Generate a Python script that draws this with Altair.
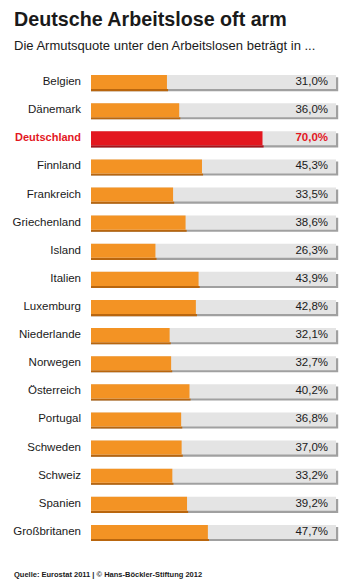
import altair as alt
import pandas as pd

countries = ["Belgien", "Dänemark", "Deutschland", "Finnland", "Frankreich", "Griechenland",
             "Island", "Italien", "Luxemburg", "Niederlande", "Norwegen", "Österreich",
             "Portugal", "Schweden", "Schweiz", "Spanien", "Großbritanen"]
values = [31.0, 36.0, 70.0, 45.3, 33.5, 38.6, 26.3, 43.9, 42.8, 32.1, 32.7, 40.2,
          36.8, 37.0, 33.2, 39.2, 47.7]
highlight = "Deutschland"

df = pd.DataFrame({
    "land": countries,
    "idx": list(range(len(countries))),
    "wert": values,
    "label": [f"{v:.1f}".replace(".", ",") + "%" for v in values],
    "full": [100] * len(values),
    "zero": [0] * len(values),
    "hl": [c == highlight for c in countries],
})

W, H = 354, 587
FONT = "Liberation Sans"
HALF = 0.25      # half bar thickness in row units
SH_Y = 0.075     # shadow drop in row units (~2px)
SH_X = 0.9       # shadow extension to the right in percent units (~2px)

xs = alt.Scale(domain=[0, 100], range=[91, 336])
ys = alt.Scale(domain=[-0.5, len(countries) - 0.5], range=[68, 546], zero=False, nice=False)

base = alt.Chart(df).transform_calculate(
    y0=f"datum.idx - {HALF}", y1=f"datum.idx + {HALF}",
    sy0=f"datum.idx - {HALF} + {SH_Y}", sy1=f"datum.idx + {HALF} + {SH_Y}",
    sfull=f"datum.full + {SH_X}", swert=f"datum.wert + {SH_X / 2}")

X0 = alt.X("zero:Q", scale=xs, axis=None)
Yt = alt.Y("y0:Q", scale=ys, axis=None)
Ys = alt.Y("sy0:Q", scale=ys, axis=None)

shadow_gray = base.mark_rect(color="#a0a0a0").encode(
    x=X0, x2="sfull:Q", y=Ys, y2="sy1:Q")
shadow_val = base.mark_rect().encode(
    x=X0, x2="swert:Q", y=Ys, y2="sy1:Q",
    color=alt.condition("datum.hl", alt.value("#a8121a"), alt.value("#b9660e")))
bg = base.mark_rect(color="#e4e4e4").encode(x=X0, x2="full:Q", y=Yt, y2="y1:Q")
bar = base.mark_rect().encode(
    x=X0, x2="wert:Q", y=Yt, y2="y1:Q",
    color=alt.condition("datum.hl", alt.value("#e3171f"), alt.value("#f39324")))

Yc = alt.Y("idx:Q", scale=ys, axis=None)
names_n = base.transform_filter("!datum.hl").mark_text(
    align="right", baseline="middle", font=FONT, fontSize=11.5, color="#1a1a1a").encode(
    x=alt.value(81), y=Yc, text="land:N")
names_h = base.transform_filter("datum.hl").mark_text(
    align="right", baseline="middle", font=FONT, fontSize=11, fontWeight="bold",
    color="#e3171f").encode(x=alt.value(81), y=Yc, text="land:N")
vals_n = base.transform_filter("!datum.hl").mark_text(
    align="right", baseline="middle", font=FONT, fontSize=11.5, color="#1a1a1a").encode(
    x=alt.value(328), y=Yc, text="label:N")
vals_h = base.transform_filter("datum.hl").mark_text(
    align="right", baseline="middle", font=FONT, fontSize=11.5, fontWeight="bold",
    color="#e3171f").encode(x=alt.value(328), y=Yc, text="label:N")

title_df = pd.DataFrame({"t": ["Deutsche Arbeitslose oft arm"]})
sub_df = pd.DataFrame({"t": ["Die Armutsquote unter den Arbeitslosen beträgt in ..."]})
foot_df = pd.DataFrame({"t": ["Quelle: Eurostat 2011 | © Hans-Böckler-Stiftung 2012"]})

title = alt.Chart(title_df).mark_text(align="left", baseline="alphabetic", font=FONT,
                                      fontSize=19.7, fontWeight="bold", color="#1a1a1a").encode(
    x=alt.value(14), y=alt.value(26), text="t:N")
sub = alt.Chart(sub_df).mark_text(align="left", baseline="alphabetic", font=FONT,
                                  fontSize=13, color="#1a1a1a").encode(
    x=alt.value(14), y=alt.value(50), text="t:N")
foot = alt.Chart(foot_df).mark_text(align="left", baseline="alphabetic", font=FONT,
                                    fontSize=7.5, fontWeight="bold", color="#1a1a1a").encode(
    x=alt.value(14), y=alt.value(577), text="t:N")

chart = alt.layer(shadow_gray, shadow_val, bg, bar, names_n, names_h, vals_n, vals_h,
                  title, sub, foot).properties(
    width=W, height=H, autosize=alt.AutoSizeParams(type="none"), padding=0,
    background="white"
).configure_view(stroke=None)

chart.save("out.html", embed_options={"renderer": "svg", "actions": False})
